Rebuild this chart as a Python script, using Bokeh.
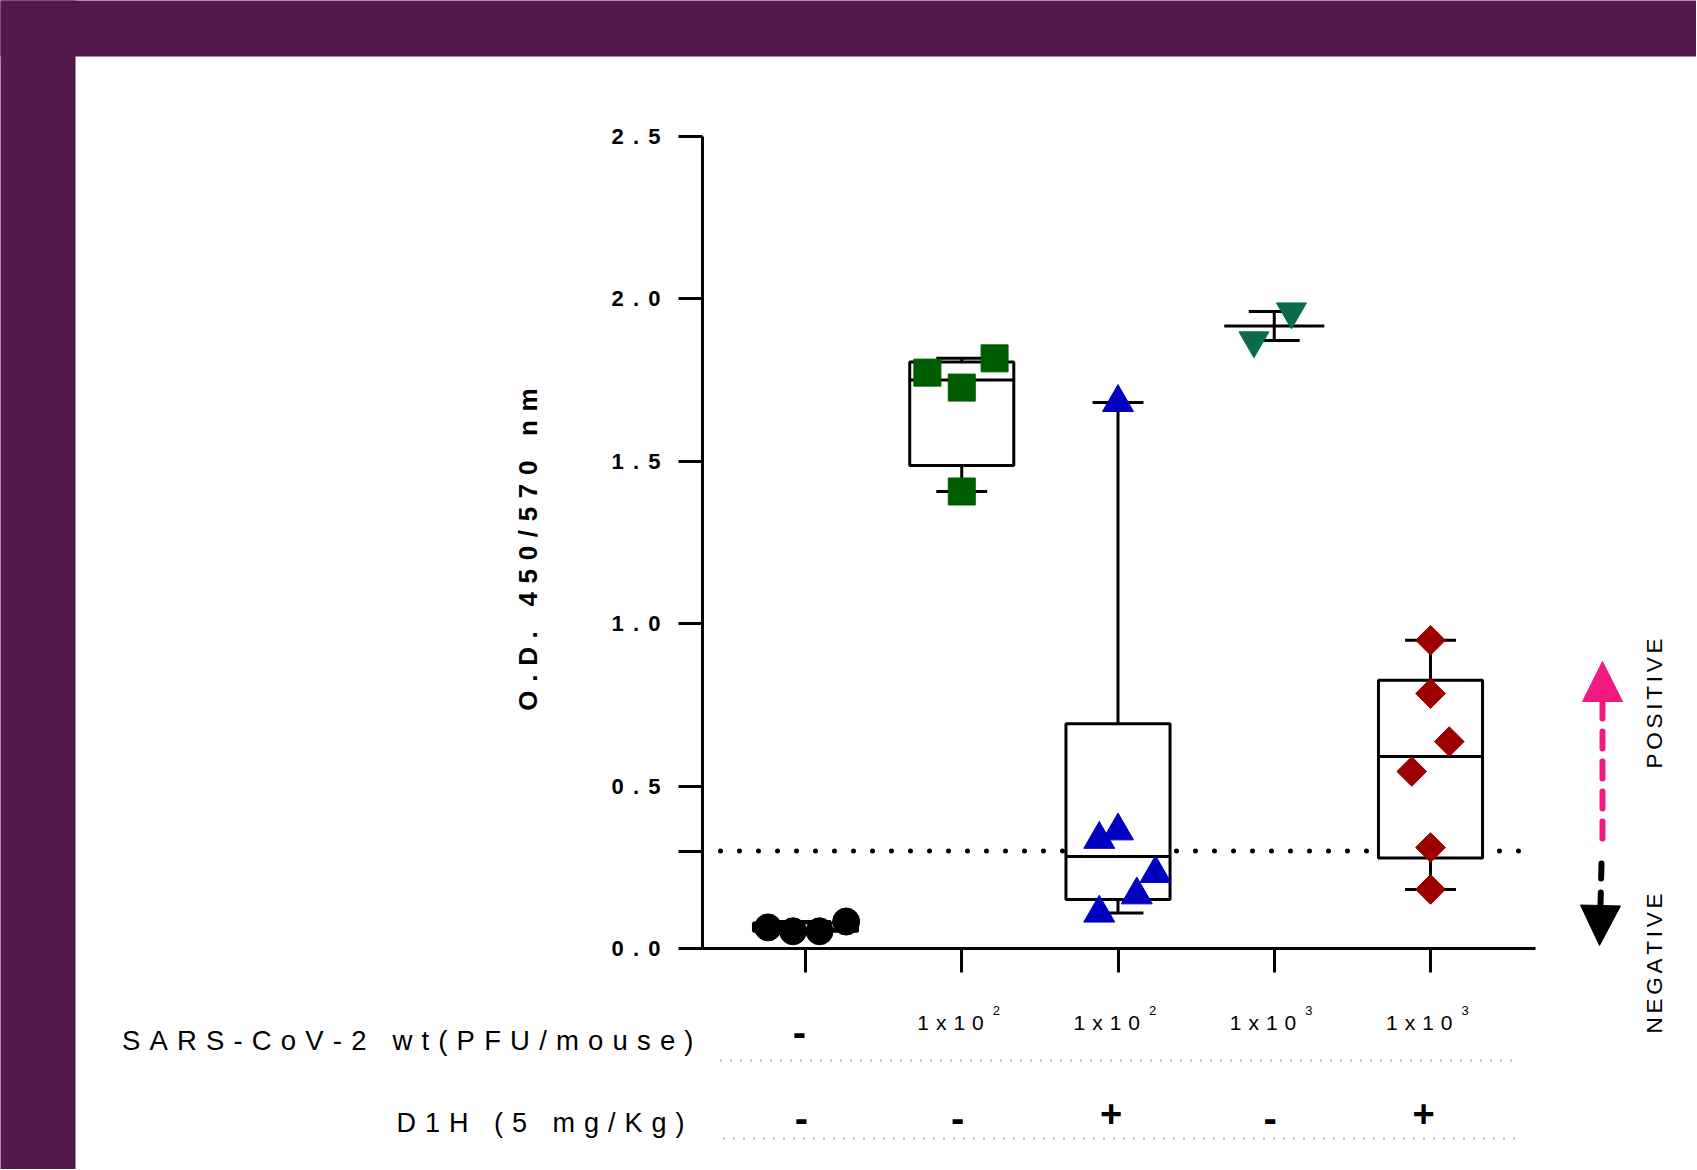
import numpy as np
from bokeh.plotting import figure
from bokeh.models import Range1d, FixedTicker, LinearAxis, Arrow, NormalHead
from bokeh.core.properties import value
from bokeh.embed import file_html
from bokeh.resources import INLINE

# ---------------- data ----------------
groups = [1, 2, 3, 4, 5]
od_mock = [0.065, 0.053, 0.053, 0.083]
od_wt100 = [1.773, 1.727, 1.817, 1.407]
od_wt100_d1h = [0.336, 0.362, 0.231, 0.165, 0.109, 1.681]
od_wt1000 = [1.872, 1.961]
od_wt1000_d1h = [0.949, 0.785, 0.637, 0.545, 0.311, 0.182]

jit_mock = [-0.24, -0.08, 0.09, 0.26]
jit_wt100 = [-0.22, 0.0, 0.21, 0.0]
jit_wt100_d1h = [-0.12, 0.0, 0.24, 0.12, -0.12, 0.0]
jit_wt1000 = [-0.13, 0.11]
jit_wt1000_d1h = [0.0, 0.0, 0.12, -0.12, 0.0, 0.0]

cutoff = 0.3
virus_dose = ["-", "1x10", "1x10", "1x10", "1x10"]
virus_exp = ["", "2", "2", "3", "3"]
d1h_dose = ["-", "-", "+", "-", "+"]
y_ticks = [0.0, 0.3, 0.5, 1.0, 1.5, 2.0, 2.5]
y_tick_labels = ["0.0", "", "0.5", "1.0", "1.5", "2.0", "2.5"]
row_titles = ["SARS-CoV-2 wt(PFU/mouse)", "D1H (5 mg/Kg)"]
y_title = "O.D. 450/570 nm"
side_labels = ["POSITIVE", "NEGATIVE"]

# ---------------- layout (page pixels) ----------------
W, H = 1696, 1169
FR_L, FR_R, FR_T, FR_B = 702, 1535, 136, 948   # plot area
XSTEP = 156.25
x_start = 1 - (805 - FR_L) / XSTEP
x_end = x_start + (FR_R - FR_L) / XSTEP
YPX = (FR_B - FR_T) / 2.5


def xd(px):
    return x_start + (px - FR_L) / XSTEP


def yd(py):
    return (FR_B - py) / YPX


EN = "\u2002"
TPE = "\u2004"
FPE = "\u2005"
SIX = "\u2006"


def spaced(s, sep):
    words = s.split(" ")
    return (sep + " " + sep).join(sep.join(w) for w in words)


def pct(vals, q):
    v = np.sort(np.asarray(vals, dtype=float))
    n = len(v)
    pos = (n + 1) * q
    if pos <= 1:
        return v[0]
    if pos >= n:
        return v[-1]
    lo = int(np.floor(pos))
    fr = pos - lo
    return v[lo - 1] + fr * (v[lo] - v[lo - 1])


FONT = "Liberation Sans"
PURPLE = "#511a4b"
PINK = "#f01a80"

p = figure(width=W, height=H, x_range=Range1d(xd(0), xd(W)), y_range=Range1d(yd(H), yd(0)),
           output_backend="svg", toolbar_location=None,
           x_axis_location=None, y_axis_location=None,
           min_border=0, min_border_left=0, min_border_right=0,
           min_border_top=0, min_border_bottom=0)
p.outline_line_color = None
p.xgrid.visible = False
p.ygrid.visible = False
p.background_fill_color = "white"
p.border_fill_color = "white"

# ---- purple background strips ----
p.quad(left=[xd(-10), xd(-10)], right=[xd(W + 10), xd(75)], top=[yd(-10), yd(-10)],
       bottom=[yd(56), yd(H + 10)], fill_color=PURPLE, line_alpha=0)

# ---- axes ----
yax = LinearAxis(fixed_location=x_start, bounds=(0, 2.5))
yax.ticker = FixedTicker(ticks=y_ticks)
yax.major_label_overrides = {t: spaced(l, FPE + SIX) for t, l in zip(y_ticks, y_tick_labels)}
yax.axis_line_width = 3
yax.major_tick_line_width = 3
yax.major_tick_out = 24
yax.major_tick_in = 0
yax.minor_tick_line_color = None
yax.major_label_text_font = FONT
yax.major_label_text_font_style = "bold"
yax.major_label_text_font_size = "22px"
yax.major_label_text_color = "black"
yax.major_label_standoff = 18
p.add_layout(yax, "left")

xax = LinearAxis(fixed_location=0, bounds=(x_start, x_end))
xax.ticker = FixedTicker(ticks=groups)
xax.major_label_overrides = {g: "" for g in groups}
xax.axis_line_width = 3
xax.major_tick_line_width = 3
xax.major_tick_out = 24
xax.major_tick_in = 0
xax.minor_tick_line_color = None
p.add_layout(xax, "below")

# y-axis title
p.text(x=[xd(527)], y=[yd(549)], text=[spaced(y_title, TPE)], angle=np.pi / 2,
       text_align="center", text_baseline="middle", text_font=value(FONT),
       text_font_style="bold", text_font_size=value("26px"), text_color="black")

# ---- cutoff dotted line (under boxes) ----
p.segment(x0=[xd(720)], y0=[cutoff], x1=[xd(1532)], y1=[cutoff], line_color="black",
          line_width=5, line_dash="0 19", line_cap="round")

# ---- box plots ----
box_sets = [(1, od_mock), (2, od_wt100), (3, od_wt100_d1h), (5, od_wt1000_d1h)]
BH = 0.333
CH = 0.163
for g, vals in box_sets:
    q1, med, q3 = pct(vals, 0.25), pct(vals, 0.5), pct(vals, 0.75)
    lo, hi = min(vals), max(vals)
    p.segment(x0=[g, g], y0=[q3, q1], x1=[g, g], y1=[hi, lo], line_color="black", line_width=3)
    p.segment(x0=[g - CH, g - CH], y0=[hi, lo], x1=[g + CH, g + CH], y1=[hi, lo],
              line_color="black", line_width=3)
    p.quad(left=[g - BH], right=[g + BH], bottom=[q1], top=[q3], fill_color="white",
           line_color="black", line_width=3)
    p.segment(x0=[g - BH], y0=[med], x1=[g + BH], y1=[med], line_color="black", line_width=3)

# ---- mean +/- SEM for group 4 ----
m4 = float(np.mean(od_wt1000))
s4 = float(np.std(od_wt1000, ddof=1) / np.sqrt(len(od_wt1000)))
p.segment(x0=[4], y0=[m4 - s4], x1=[4], y1=[m4 + s4], line_color="black", line_width=3)
p.segment(x0=[4 - CH, 4 - CH, 4 - 0.32], y0=[m4 - s4, m4 + s4, m4],
          x1=[4 + CH, 4 + CH, 4 + 0.32], y1=[m4 - s4, m4 + s4, m4],
          line_color="black", line_width=3)


# ---- points ----
def xs(g, jit):
    return [g + j for j in jit]


p.scatter(xs(1, jit_mock), od_mock, marker="circle", size=27, fill_color="black", line_color="black")
p.scatter(xs(2, jit_wt100), od_wt100, marker="square", size=27, fill_color="#005c00", line_color="#005c00")
p.scatter(xs(3, jit_wt100_d1h), od_wt100_d1h, marker="triangle", size=31, fill_color="#0000c0",
          line_color="#0000c0")
p.scatter(xs(4, jit_wt1000), od_wt1000, marker="inverted_triangle", size=30, fill_color="#0b6b48",
          line_color="#0b6b48")
p.scatter(xs(5, jit_wt1000_d1h), od_wt1000_d1h, marker="square", angle=np.pi / 4, size=21,
          fill_color="#9e0000", line_color="#9e0000")

# ---- row titles ----
p.text(x=[xd(693)], y=[yd(1039.5)], text=[spaced(row_titles[0], TPE)],
       text_align="right", text_baseline="alphabetic", text_font=value(FONT),
       text_font_size=value("27.5px"), text_color="black")
p.text(x=[xd(684)], y=[yd(1122)], text=[spaced(row_titles[1], TPE)],
       text_align="right", text_baseline="alphabetic", text_font=value(FONT),
       text_font_size=value("27px"), text_color="black")

# ---- row values ----
g_exp = [g for g, e in zip(groups, virus_exp) if e]
t_exp = [spaced(t, TPE) for t, e in zip(virus_dose, virus_exp) if e]
e_exp = [e for e in virus_exp if e]
p.text(x=g_exp, y=[yd(1022)] * len(g_exp), text=t_exp, x_offset=22, text_align="right",
       text_baseline="alphabetic", text_font=value(FONT), text_font_size=value("21px"),
       text_color="black")
p.text(x=g_exp, y=[yd(1010)] * len(g_exp), text=e_exp, x_offset=31, text_align="left",
       text_baseline="alphabetic", text_font=value(FONT), text_font_size=value("13px"),
       text_color="black")
g_neg = [g for g, e in zip(groups, virus_exp) if not e]
p.text(x=g_neg, y=[yd(1031)] * len(g_neg), text=[t for t, e in zip(virus_dose, virus_exp) if not e],
       x_offset=-6, text_align="center", text_baseline="alphabetic", text_font=value(FONT),
       text_font_style="bold", text_font_size=value("40px"), text_color="black")

g_minus = [g for g, t in zip(groups, d1h_dose) if t == "-"]
g_plus = [g for g, t in zip(groups, d1h_dose) if t == "+"]
p.text(x=g_minus, y=[yd(1117)] * len(g_minus), text=["-"] * len(g_minus), x_offset=-4,
       text_align="center", text_baseline="alphabetic", text_font=value(FONT),
       text_font_style="bold", text_font_size=value("40px"), text_color="black")
p.text(x=g_plus, y=[yd(1113)] * len(g_plus), text=["+"] * len(g_plus), x_offset=-7,
       text_align="center", text_baseline="alphabetic", text_font=value(FONT),
       text_font_style="bold", text_font_size=value("38px"), text_color="black")

# ---- dotted separators ----
p.segment(x0=[xd(720), xd(723)], y0=[yd(1060), yd(1138)], x1=[xd(1515), xd(1520)],
          y1=[yd(1060), yd(1138)], line_color="#9a9a9a", line_width=3, line_dash="1 9")

# ---- positive / negative arrows ----
p.add_layout(Arrow(end=NormalHead(size=40, fill_color=PINK, line_color=PINK, line_width=1),
                   x_start=xd(1602), y_start=yd(838), x_end=xd(1602), y_end=yd(661),
                   line_color=PINK, line_width=6, line_dash="17 13", line_cap="round"))
p.add_layout(Arrow(end=NormalHead(size=40, fill_color="black", line_color="black", line_width=1),
                   x_start=xd(1601), y_start=yd(863), x_end=xd(1599), y_end=yd(945),
                   line_color="black", line_width=6, line_dash="15 14", line_cap="round"))

p.text(x=[xd(1654), xd(1654)], y=[yd(703), yd(963)], text=[spaced(s, SIX) for s in side_labels],
       angle=np.pi / 2, text_align="center", text_baseline="middle", text_font=value(FONT),
       text_font_size=value("22.5px"), text_color="black")

open("out.html", "w").write(file_html(p, INLINE))
